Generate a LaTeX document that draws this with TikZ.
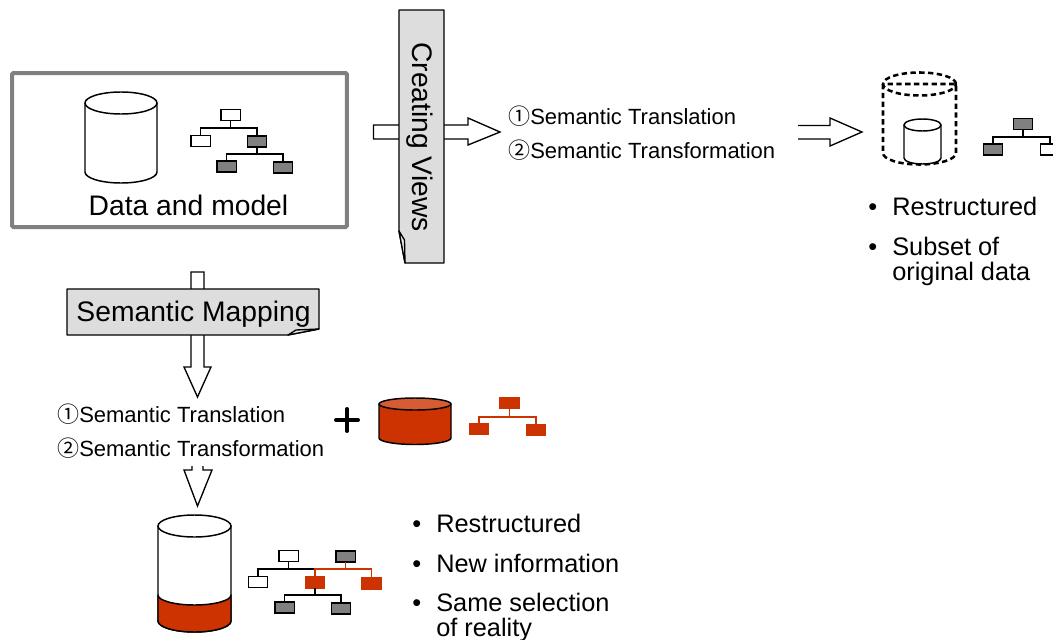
\documentclass[tikz,border=0pt]{standalone}
\usepackage{fontspec}
\setmainfont{Liberation Sans}
\newfontfamily\cjkfont{Noto Sans CJK JP}
\definecolor{redfill}{RGB}{204,51,0}
\definecolor{redtop}{RGB}{214,92,51}
\definecolor{boxgray}{RGB}{128,128,128}
\definecolor{bannergray}{RGB}{221,221,221}
\tikzset{
  stroke/.style={line width=1.1pt,line join=round},
  tbox/.style={draw=black,line width=1.1pt,fill=white,inner sep=0pt,outer sep=0pt,minimum width=14.6pt,minimum height=8pt},
  gbox/.style={tbox,fill=boxgray},
  rbox/.style={tbox,draw=redfill,fill=redfill},
  wire/.style={line width=1.1pt,draw=black},
  redwire/.style={line width=1.1pt,draw=redfill},
  big/.style={font=\fontsize{21.2}{24}\selectfont,inner sep=0pt},
  mid/.style={font=\fontsize{16.5}{19}\selectfont,inner sep=0pt,anchor=base west},
  bul/.style={font=\fontsize{19}{22}\selectfont,inner sep=0pt,anchor=base west},
  banner/.style={draw=black,line width=1pt,fill=bannergray,line join=round},
  blockarrow/.style={draw=black,line width=1pt,fill=white,line join=miter},
}
% cx, rx, ytop, ybot, ry
\newcommand{\drum}[6][]{%
  \path[stroke,draw=black,fill=white,#1] ({#2-#3},#4) -- ({#2-#3},#5)
    arc[start angle=180,end angle=360,x radius=#3*.75pt,y radius=#6*.75pt] -- ({#2+#3},#4) -- cycle;
  \path[stroke,draw=black,fill=white,#1] (#2,#4) ellipse[x radius=#3*.75pt,y radius=#6*.75pt];
}
\begin{document}
\begin{tikzpicture}[x=.75pt,y=-.75pt]
\clip (0,0) rectangle (1053,639);
\fill[white] (0,0) rectangle (1053,639);

% --- Data and model frame
\node[draw=boxgray,line width=3pt,rounded corners=1pt,inner sep=0pt,outer sep=0pt,minimum width=251pt,minimum height=115.5pt] (frame) at (179.5,150) {};
\drum{121}{36}{103}{172}{11}
\node[tbox] (a1) at (230.5,115) {};
\node[tbox] (a2) at (200.5,141) {};
\node[gbox] (a3) at (257,141.5) {};
\node[gbox] (a4) at (226.5,166.5) {};
\node[gbox] (a5) at (283,167.5) {};
\coordinate (am) at (a1.south |- 0,128);
\coordinate (an) at (a3.south |- 0,154);
\draw[wire] (a1.south) -- (am);
\draw[wire] (a2.north) |- (am) -| (a3.north);
\draw[wire] (a3.south) -- (an);
\draw[wire] (a4.north) |- (an) -| (a5.north);
\node[big,anchor=base] (dm) at (188.5,215) {Data and model};

% --- Creating Views arrow and banner
\draw[blockarrow] (373.5,125) -- (468,125) -- (468,118) -- (500,132) -- (468,145) -- (468,139) -- (373.5,139) -- cycle;
\draw[banner] (399,10) -- (444,10) -- (444,263) -- (405,263) -- (399,231) -- cycle;
\draw[banner,fill=bannergray!60] (399,231) -- (404.5,240) -- (405,263) -- cycle;
\node[big,rotate=-90,anchor=base west] (cv) at (412,42) {Creating Views};

\node[mid] (t1) at (508,124) {{\cjkfont ①}Semantic Translation};
\node[mid] (t2) at (508,158) {{\cjkfont ②}Semantic Transformation};

% --- right arrow, open tail
\draw[blockarrow] (798,125.5) -- (830,125.5) -- (830,118) -- (862,132) -- (830,146) -- (830,139) -- (798,139);

% --- dashed cylinder with subset
\drum[dashed,line width=1.9pt,dash pattern=on 4pt off 2.6pt,fill=none]{919.5}{36.5}{84}{153}{11.5}
\drum{922.5}{18.5}{125}{158}{6}
\node[gbox] (b1) at (1023,124) {};
\node[gbox] (b2) at (993,149.5) {};
\node[tbox] (b3) at (1050,149.5) {};
\coordinate (bm) at (b1.south |- 0,137);
\draw[wire] (b1.south) -- (bm);
\draw[wire] (b2.north) |- (bm) -| (b3.north);

\node[bul] (r0) at (868,215) {•};
\node[bul] (r1) at (892,215) {Restructured};
\node[bul] (r2) at (868,255) {•};
\node[bul] (r3) at (892,255) {Subset of};
\node[bul] (r4) at (892,280) {original data};

% --- Semantic Mapping arrow and banner
\draw[blockarrow] (191,272) -- (204,272) -- (204,367) -- (211,367) -- (197.5,397) -- (184,367) -- (191,367) -- cycle;
\draw[banner] (67,289) -- (319,289) -- (319,329) -- (288,335) -- (67,335) -- cycle;
\draw[banner,fill=bannergray!60] (288,335) -- (296,330) -- (319,329) -- cycle;
\node[big,anchor=base] (sm) at (193.5,321) {Semantic Mapping};

\node[mid] (t3) at (57,422) {{\cjkfont ①}Semantic Translation};
\node[mid] (t4) at (57,456) {{\cjkfont ②}Semantic Transformation};

% --- plus sign
\coordinate (pc) at (347,420);
\draw[line width=3pt,line cap=round] (336,420) -- (358,420);
\draw[line width=3pt,line cap=round] (347,409) -- (347,431);

% --- red cylinder and tree
\path[stroke,draw=black,fill=redfill] (379,404) -- (379,438)
  arc[start angle=180,end angle=360,x radius=36*.75pt,y radius=6.5*.75pt] -- (451,404) -- cycle;
\path[stroke,draw=black,fill=redtop] (415,404) ellipse[x radius=36*.75pt,y radius=6*.75pt];
\node[rbox] (c1) at (509.5,403) {};
\node[rbox] (c2) at (479,429) {};
\node[rbox] (c3) at (536,430) {};
\coordinate (cm) at (c1.south |- 0,417);
\draw[redwire] (c1.south) -- (cm);
\draw[redwire] (c2.north) |- (cm) -| (c3.north);

% --- lower arrow
\draw[blockarrow] (192,466) -- (192,470) -- (184,470) -- (197.5,506) -- (212,470) -- (203,470) -- (203,466);

% --- lower cylinder
\drum{194.5}{36.5}{526}{621}{11}
\path[stroke,draw=black,fill=redfill] (158,595)
  arc[start angle=180,end angle=360,x radius=36.5*.75pt,y radius=10*.75pt] -- (231,621)
  arc[start angle=360,end angle=180,x radius=36.5*.75pt,y radius=11*.75pt] -- cycle;

% --- lower tree
\node[tbox] (d1) at (288.5,556) {};
\node[gbox] (d2) at (345.5,556.5) {};
\node[tbox] (d3) at (258,582) {};
\node[rbox] (d4) at (315,582.5) {};
\node[rbox] (d5) at (371.5,583.5) {};
\node[gbox] (d6) at (284.5,607.5) {};
\node[gbox] (d7) at (341,608.5) {};
\coordinate (dm) at (d1.south |- 0,569);
\coordinate (dn) at (d2.south |- 0,569);
\coordinate (dp) at (d4.south |- 0,595);
\draw[wire] (d1.south) -- (dm);
\draw[wire] (d3.north) |- (dm) -- (d4.north |- dm);
\draw[redwire] (d4.north) -- (d4.north |- dm) -- (dn) -- (d5.north |- dm) -- (d5.north);
\draw[redwire] (d2.south) -- (dn);
\draw[wire] (d4.south) -- (dp);
\draw[wire] (d6.north) |- (dp) -| (d7.north);

\node[bul] (s0) at (412,532) {•};
\node[bul] (s1) at (436,532) {Restructured};
\node[bul] (s2) at (412,572) {•};
\node[bul] (s3) at (436,572) {New information};
\node[bul] (s4) at (412,611) {•};
\node[bul] (s5) at (436,611) {Same selection};
\node[bul] (s6) at (436,636) {of reality};
\end{tikzpicture}
\end{document}
